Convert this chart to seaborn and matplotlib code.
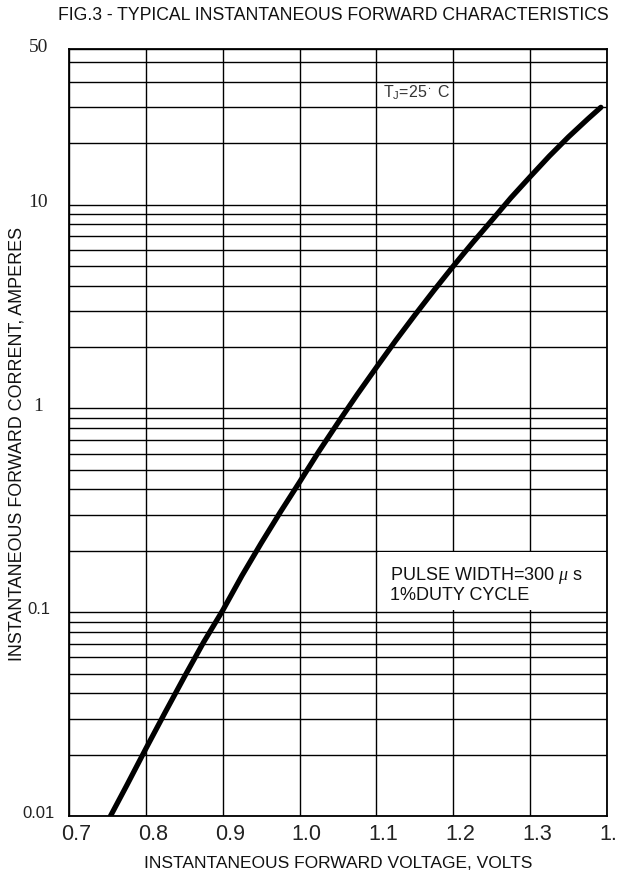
import matplotlib
matplotlib.use("Agg")
import matplotlib.pyplot as plt
import matplotlib.transforms as mtransforms
from matplotlib.patches import Rectangle
from matplotlib.ticker import FixedLocator, NullFormatter
import seaborn as sns
import pandas as pd

# ---- data ----
voltage = [0.754, 0.775, 0.800, 0.825, 0.850, 0.875, 0.900, 0.925, 0.950,
           0.975, 1.000, 1.025, 1.050, 1.075, 1.100, 1.125, 1.150, 1.175,
           1.200, 1.225, 1.250, 1.275, 1.300, 1.325, 1.350, 1.375, 1.392]
current = [0.0100, 0.0141, 0.0214, 0.0322, 0.0481, 0.0711, 0.102, 0.151,
           0.218, 0.310, 0.435, 0.614, 0.851, 1.17, 1.59, 2.15, 2.87, 3.80,
           4.99, 6.49, 8.36, 10.8, 13.7, 17.3, 21.5, 26.3, 30.0]

x_ticks = [0.7, 0.8, 0.9, 1.0, 1.1, 1.2, 1.3, 1.4]
x_tick_labels = ["0.7", "0.8", "0.9", "1.0", "1.1", "1.2", "1.3", "1.4"]
y_ticks = [0.01, 0.1, 1, 10, 58]
y_tick_labels = ["0.01", "0.1", "1", "10", "50"]
y_minor = [0.02, 0.03, 0.04, 0.05, 0.06, 0.07, 0.08, 0.09,
           0.2, 0.3, 0.4, 0.5, 0.6, 0.7, 0.8, 0.9,
           2, 3, 4, 5, 6, 7, 8, 9,
           20, 30, 40, 50]

title = "FIG.3 - TYPICAL INSTANTANEOUS FORWARD CHARACTERISTICS"
x_label = "INSTANTANEOUS FORWARD VOLTAGE, VOLTS"
y_label = "INSTANTANEOUS FORWARD CORRENT, AMPERES"
note_temp = r"T$_\mathregular{J}$=25$^\bullet$ C"
note_pulse = "PULSE WIDTH=300 $\\mu$ s\n1%DUTY CYCLE"

df = pd.DataFrame({"V": voltage, "I": current})

sns.set_theme(style="white")
plt.rcParams["font.family"] = ["Liberation Sans", "DejaVu Sans"]
plt.rcParams["mathtext.fontset"] = "custom"
plt.rcParams["mathtext.rm"] = "Liberation Sans"
plt.rcParams["mathtext.it"] = "Liberation Serif:italic"

W, H = 617, 880
fig = plt.figure(figsize=(W / 100, H / 100), dpi=100)
L, R, T, B = 69, 607, 49, 816
ax = fig.add_axes([L / W, 1 - B / H, (R - L) / W, (B - T) / H])

ax.set_yscale("log")
ax.set_xlim(0.7, 1.4)
ax.set_ylim(0.01, 58)

# grid
ax.xaxis.set_major_locator(FixedLocator(x_ticks))
ax.set_xticklabels(x_tick_labels)
ax.yaxis.set_major_locator(FixedLocator(y_ticks))
ax.set_yticklabels(y_tick_labels)
ax.yaxis.set_minor_locator(FixedLocator(y_minor))
ax.yaxis.set_minor_formatter(NullFormatter())
ax.grid(True, which="both", axis="both", color="black", linewidth=1.0)
ax.tick_params(which="both", length=0)
ax.tick_params(axis="x", labelsize=15.5, pad=6, colors="#222222")
ax.tick_params(axis="y", labelsize=12, pad=22, colors="#222222")
for lab in ax.get_yticklabels():
    lab.set_horizontalalignment("center")
    if lab.get_text() in ("1", "10", "50"):
        lab.set_fontfamily("Liberation Serif")
        lab.set_fontsize(14)
for lab in ax.get_xticklabels():
    lab.set_transform(lab.get_transform() +
                      mtransforms.ScaledTranslation(0.07, 0, fig.dpi_scale_trans))
for lab in ax.get_yticklabels():
    lab.set_transform(lab.get_transform() +
                      mtransforms.ScaledTranslation(0, 0.04, fig.dpi_scale_trans))

for s in ax.spines.values():
    s.set_color("black")
    s.set_linewidth(1.3)
    s.set_visible(True)

sns.lineplot(data=df, x="V", y="I", ax=ax, color="black", linewidth=3.8,
             estimator=None, sort=True, zorder=5)
ax.get_lines()[-1].set_solid_joinstyle("round")

# white box behind the pulse note
ax.add_patch(Rectangle((1.1015, 0.1025), 0.297, 0.0945, facecolor="white",
                       edgecolor="none", zorder=3))
ax.text(1.118, 0.137, note_pulse, fontsize=13, color="#111111",
        va="center", ha="left", zorder=4, linespacing=1.1)
ax.text(1.108, 35.5, note_temp, fontsize=11.5, color="#333333",
        va="center", ha="left", zorder=4)

ax.set_xlabel(x_label, fontsize=12.5, labelpad=8, color="#111111")
ax.set_ylabel(y_label, fontsize=12.9, color="#111111")
ax.yaxis.set_label_coords(-(L - 17) / (R - L), (B - 444) / (B - T))
ax.yaxis.label.set_verticalalignment("center")

fig.text(333 / W, 1 - 15 / H, title, fontsize=12.7, ha="center", va="center",
         color="#111111")

fig.savefig("out.png", dpi=100, facecolor="white")
